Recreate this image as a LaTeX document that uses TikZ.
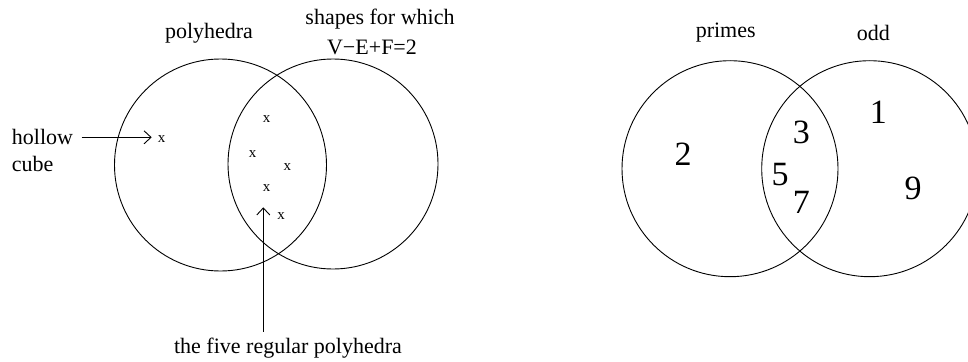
\documentclass[tikz,border=0pt]{standalone}
\usepackage{fontspec}
\setmainfont{Liberation Serif}
\usetikzlibrary{arrows.meta}
\begin{document}
\begin{tikzpicture}[x=1pt,y=-1pt,
  lbl/.style={inner sep=0pt,font=\fontsize{22}{28}\selectfont},
  cross/.style={inner sep=0pt,font=\fontsize{15}{18}\selectfont},
  num/.style={inner sep=0pt,font=\fontsize{34}{38}\selectfont},
  ring/.style={line width=0.9pt},
  arr/.style={-{Straight Barb[length=7pt,width=13pt]},line width=0.9pt}]
\useasboundingbox (0,0) rectangle (968,361);
% left Venn
\draw[ring] (220.5,165) circle (106);
\draw[ring] (333,164) circle (105);
\node[lbl] (poly) at (209,33) {polyhedra};
\node[lbl] (sh1) at (380,19) {shapes for which};
\node[lbl] (sh2) at (372,47) {V−E+F=2};
\node[lbl,anchor=west] (hollow) at (11.7,137) {hollow};
\node[lbl,anchor=west] (cube) at (11.7,164) {cube};
\node[cross] (xh) at (161.7,139) {x};
\node[cross] (x1) at (266.7,119) {x};
\node[cross] (x2) at (252.7,154) {x};
\node[cross] (x3) at (287.3,167.5) {x};
\node[cross] (x4) at (266.7,188.5) {x};
\node[cross] (x5) at (281,216.5) {x};
\node[lbl] (five) at (288,348) {the five regular polyhedra};
\coordinate (hs) at (81.7,137.3);
\coordinate (he) at (151.7,137.3);
\draw[arr] (hs) -- (he);
\coordinate (fs) at (263.3,331.7);
\coordinate (fe) at (263.3,207.3);
\draw[arr] (fs) -- (fe);
% right Venn
\draw[ring] (730,168.7) circle (108);
\draw[ring] (869.7,168.7) circle (108);
\node[lbl] (primes) at (725.7,33) {primes};
\node[lbl] (odd) at (873.3,33) {odd};
\node[num] (n2) at (683,154) {2};
\node[num] (n1) at (878.3,112.7) {1};
\node[num] (n3) at (801.3,132.7) {3};
\node[num] (n5) at (780,175) {5};
\node[num] (n7) at (801.3,202.7) {7};
\node[num] (n9) at (913,188.3) {9};
\end{tikzpicture}
\end{document}
